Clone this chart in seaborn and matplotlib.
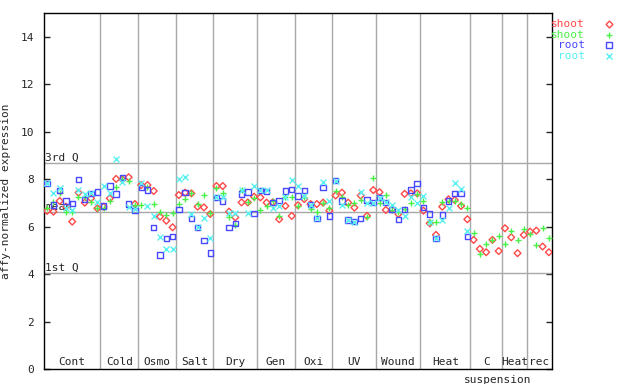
import numpy as np
import pandas as pd
import matplotlib
matplotlib.use("Agg")
import matplotlib.pyplot as plt
import seaborn as sns

groups = ["Cont", "Cold", "Osmo", "Salt", "Dry", "Gen", "Oxi", "UV", "Wound", "Heat", "C", "Heat", "rec"]
group_sizes = [9, 6, 6, 6, 7, 6, 6, 7, 7, 8, 5, 4, 4]

shoot1 = [6.66, 6.63, 7.08, 6.84, 6.21, 7.43, 7.01, 7.19, 6.77,
          6.84, 7.19, 8.01, 7.99, 8.08, 6.95,
          7.75, 7.75, 7.50, 6.42, 6.25, 5.97,
          7.33, 7.43, 7.40, 6.84, 6.81, 6.53,
          7.71, 7.71, 6.63, 6.39, 7.02, 7.02, 7.26,
          7.23, 7.01, 7.02, 6.31, 6.87, 6.45,
          6.90, 7.16, 6.95, 6.95, 7.01, 6.67,
          7.31, 7.43, 7.01, 6.80, 7.31, 6.45, 7.54,
          7.45, 6.70, 6.73, 6.53, 7.38, 7.40, 7.40,
          6.67, 6.14, 5.65, 6.84, 7.15, 7.12, 6.87, 6.31,
          5.44, 5.06, 4.92, 5.44, 4.97,
          5.93, 5.55, 4.88, 5.65,
          5.79, 5.83, 5.16, 4.92]
shoot2 = [6.80, 7.02, 7.43, 6.63, 6.63, 7.26, 7.26, 7.05, 6.77,
          6.77, 7.08, 7.68, 7.99, 7.94, 6.91,
          6.91, 7.68, 6.95, 6.63, 6.49, 6.56,
          6.95, 7.15, 7.40, 6.95, 7.33, 6.56,
          7.64, 7.40, 6.39, 6.07, 7.54, 7.02, 7.19,
          6.70, 6.87, 7.09, 6.45, 7.23, 7.23,
          6.87, 7.23, 6.73, 6.63, 6.98, 6.77,
          7.50, 7.26, 6.91, 6.98, 7.12, 6.42, 8.03,
          6.98, 7.33, 6.70, 6.63, 6.73, 7.01, 7.38,
          7.09, 6.21, 6.21, 7.02, 7.08, 7.08, 6.95, 6.77,
          5.72, 4.85, 5.27, 5.44, 5.61,
          5.27, 5.83, 5.44, 5.89,
          5.69, 5.23, 5.93, 5.51]
nan = np.nan
root1 = [7.82, 6.91, 7.52, 7.08, 6.98, 7.99, 7.15, 7.40, 7.45,
         6.87, 7.71, 7.38, 8.08, 6.95, 6.67,
         7.66, 7.54, 5.97, 4.80, 5.51, 5.58,
         6.73, 7.43, 6.35, 5.97, 5.41, 4.88,
         7.23, 7.08, 5.97, 6.14, 7.38, 7.45, 6.56,
         7.52, 7.47, 7.02, 7.09, 7.50, 7.57,
         7.29, 7.52, 6.94, 6.35, 7.66, 6.45,
         7.94, 7.08, 6.28, 6.21, 6.35, 7.12, 7.01,
         7.22, 7.02, 6.73, 6.31, 6.73, 7.54, 7.82,
         6.81, 6.53, 5.51, 6.49, 7.08, 7.40, 7.40, 5.58,
         nan, nan, nan, nan, nan,
         nan, nan, nan, nan,
         nan, nan, nan, nan]
root2 = [7.82, 7.40, 7.61, 6.77, 6.70, 7.54, 7.38, 7.40, 7.02,
         7.71, 7.40, 8.85, 7.89, 6.84, 6.73,
         7.82, 6.87, 6.45, 5.55, 5.06, 5.06,
         7.99, 8.11, 6.53, 5.97, 6.35, 5.51,
         7.23, 7.23, 6.59, 6.56, 7.54, 6.56, 7.71,
         7.54, 7.54, 6.77, 6.87, 7.26, 7.97,
         7.73, 7.29, 6.91, 6.35, 7.87, 7.09,
         7.94, 6.91, 6.28, 6.21, 7.47, 6.98, 7.01,
         7.22, 7.02, 6.91, 6.70, 6.45, 7.23, 7.01,
         7.29, 6.21, 5.51, 6.28, 6.77, 7.85, 7.59, 5.83,
         nan, nan, nan, nan, nan,
         nan, nan, nan, nan,
         nan, nan, nan, nan]

q3_value = 8.67
mean_value = 6.62
q1_value = 4.06

series_names = ["shoot", "shoot", "root", "root"]
series_colors = ["#ff4848", "#48f048", "#4848ff", "#58f0f0"]
series_markers = ["D", "+", "s", "x"]

n = len(shoot1)
idx = np.arange(n)
df = pd.DataFrame({"idx": idx, "s1": shoot1, "s2": shoot2, "r1": root1, "r2": root2})

sns.set_style("white")
mono = "DejaVu Sans Mono"
plt.rcParams["font.family"] = [mono]

fig = plt.figure(figsize=(6.4, 3.84), dpi=100)
ax = fig.add_axes([44 / 640, 15 / 384, 508 / 640, 356 / 384])
ax.set_xlim(-0.5, n - 0.5)
ax.set_ylim(0, 15)

grey = "#a8a8a8"
bounds = np.cumsum(group_sizes)
for b in bounds[:-1]:
    ax.axvline(b - 0.5, color=grey, lw=1, zorder=1)
for v in (q3_value, mean_value, q1_value):
    ax.axhline(v, color=grey, lw=1, zorder=1)

ax.text(-0.35, q3_value, "3rd Q", fontsize=8, va="bottom", ha="left", family=mono, zorder=2)
ax.text(-0.35, mean_value, "mean", fontsize=8, va="bottom", ha="left", family=mono, zorder=2)
ax.text(-0.35, q1_value, "1st Q", fontsize=8, va="bottom", ha="left", family=mono, zorder=2)

cols = ["s1", "s2", "r1", "r2"]
for col, c, m in zip(cols, series_colors, series_markers):
    sub = df.dropna(subset=[col])
    if m in ("+", "x"):
        sns.scatterplot(data=sub, x="idx", y=col, marker=m, color=c, s=18,
                        linewidth=1.0, ax=ax, zorder=3, legend=False)
    else:
        size = 12 if m == "D" else 15
        sns.scatterplot(data=sub, x="idx", y=col, marker=m, s=size,
                        facecolor="none", edgecolor=c, linewidth=1.0,
                        ax=ax, zorder=3, legend=False)

starts = np.concatenate([[0], bounds[:-1]])
for g, s0, b in zip(groups, starts, bounds):
    cx = (s0 + b - 1) / 2
    ax.text(cx, 0.08, g, ha="center", va="bottom", fontsize=8, family=mono)
ax.text(67.5 + 4.3, -0.45, "suspension", ha="center", va="center", fontsize=8,
        family=mono, clip_on=False)

ax.set_xticks([])
ax.set_yticks(range(0, 15, 2))
ax.tick_params(axis="y", direction="in", length=4, width=1, labelsize=8,
               right=True, left=True, pad=7)
ax.set_xlabel("")
ax.set_ylabel("affy-normalized expression", fontsize=8, family=mono, labelpad=7)
for sp in ax.spines.values():
    sp.set_visible(True)
    sp.set_color("black")
    sp.set_linewidth(1)

leg_y = [24, 34.5, 45, 56]
for name, c, m, yy in zip(series_names, series_colors, series_markers, leg_y):
    fy = 1 - yy / 384
    fig.text(585 / 640, fy, name, color=c, ha="right", va="center", fontsize=8, family=mono)
    if m in ("+", "x"):
        fig.add_artist(plt.Line2D([609 / 640], [fy], marker=m, color=c, ms=4.5, mew=1,
                                  linestyle="none", transform=fig.transFigure))
    else:
        fig.add_artist(plt.Line2D([609 / 640], [fy], marker=m, mfc="none", mec=c,
                                  ms=3.5 if m == "D" else 4, mew=1, linestyle="none",
                                  transform=fig.transFigure))

fig.savefig("out.png", dpi=100)
